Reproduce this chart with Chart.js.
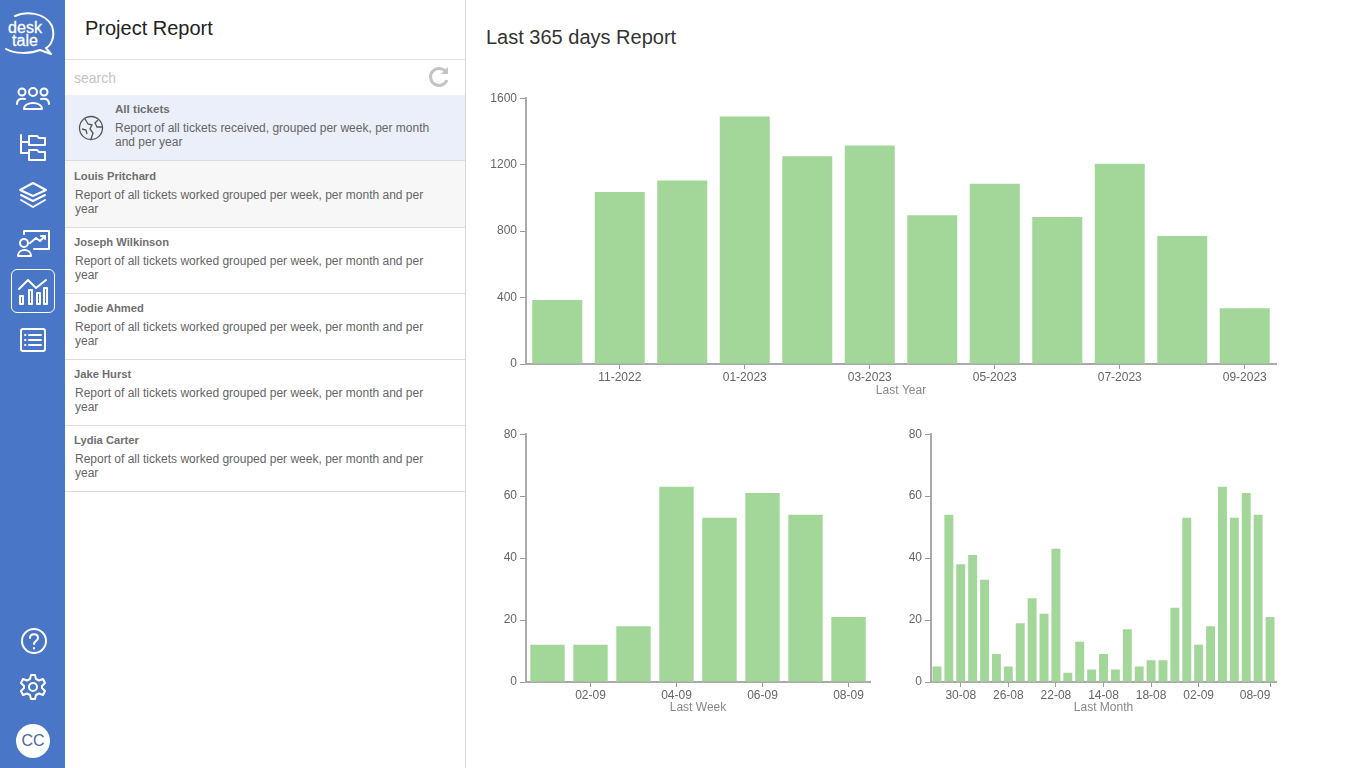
<!DOCTYPE html>
<html>
<head>
<meta charset="utf-8">
<title>Project Report</title>
<script src="https://cdn.jsdelivr.net/npm/chart.js@4/dist/chart.umd.min.js"></script>
<style>
    html, body { margin: 0; padding: 0; width: 1366px; height: 768px; overflow: hidden; background: #fff; font-family: "Liberation Sans", Arial, sans-serif; }
    #nav { position: absolute; left: 0; top: 0; width: 65px; height: 768px; background: #4a76c8; }
    #nav svg { position: absolute; fill: none; stroke: #fff; stroke-width: 2; stroke-linecap: round; stroke-linejoin: round; }
    #logo { position: absolute; left: 3px; top: 21px; width: 44px; color: #fff; font-size: 16px; line-height: 13px; text-align: center; -webkit-text-stroke: 0.3px #fff; }
    #activeBox { position: absolute; left: 11px; top: 269px; width: 44px; height: 44px; border: 1px solid #fff; border-radius: 6px; box-sizing: border-box; }
    #avatar { position: absolute; left: 16px; top: 724px; width: 34px; height: 34px; border-radius: 50%; background: #fff; color: #4a6a9c; font-size: 16px; line-height: 34px; text-align: center; }
    #panel { position: absolute; left: 65px; top: 0; width: 400px; height: 768px; border-right: 1px solid #d8d8d8; }
    #panelTitle { position: absolute; left: 20px; top: 17px; font-size: 20px; color: #222; }
    #searchRow { position: absolute; left: 0; top: 59px; width: 400px; height: 35px; border-top: 1px solid #e0e0e0; border-bottom: 1px solid #e0e0e0; }
    #searchRow span { position: absolute; left: 9px; top: 10px; font-size: 14px; color: #c4c4c4; }
    .row { position: absolute; left: 0; width: 400px; height: 66px; border-bottom: 1px solid #dcdcdc; color: #666; font-size: 12px; line-height: 14px; }
    .row b { position: absolute; left: 9px; top: 8px; color: #707070; font-size: 11.2px; }
    .row p { position: absolute; left: 10px; top: 27px; margin: 0; width: 360px; }
    #pageTitle { position: absolute; left: 486px; top: 26px; font-size: 20px; color: #333; }
    canvas { position: absolute; }
</style>
</head>
<body>
<div id="nav">
    <div id="logo">desk<br>tale</div>
    <svg style="left:0;top:0" width="60" height="60" viewBox="0 0 60 60" stroke-width="1.5"><path d="M15 16 C25 11 45 12 52 26 C56 38 50 46 46 48 L51 54 L40 50 C30 54 15 54 6 49"/></svg>
    <svg style="left:15px;top:86px" width="36" height="26" viewBox="0 0 36 26"><circle cx="7" cy="6" r="3.5"/><circle cx="18" cy="6" r="4"/><circle cx="29" cy="6" r="3.5"/><path d="M2 18 C2 13 6 12 10 13"/><path d="M34 18 C34 13 30 12 26 13"/><path d="M9 23 C9 15 27 15 27 23 Z"/></svg>
    <svg style="left:18px;top:132px" width="30" height="30" viewBox="0 0 30 30"><path d="M3 3 V21 H11"/><path d="M3 10 H11"/><path d="M11 4 H19 L21 6 H27 V13 H11 Z"/><path d="M11 18 H19 L21 20 H27 V28 H11 Z"/></svg>
    <svg style="left:18px;top:181px" width="30" height="28" viewBox="0 0 30 28"><path d="M15 2 L28 9 L15 15 L2 9 Z"/><path d="M3 14 L15 20 L27 14"/><path d="M3 19 L15 26 L27 19"/></svg>
    <svg style="left:16px;top:229px" width="34" height="30" viewBox="0 0 34 30"><path d="M8 5 V2 H33 V20 H18"/><path d="M14 14 L20 9 L24 12 L29 7"/><path d="M25 7 H29 V10"/><circle cx="8" cy="14" r="4"/><path d="M2 27 C2 19 15 19 15 27 Z"/></svg>
    <div id="activeBox"></div>
    <svg style="left:17px;top:276px" width="32" height="30" viewBox="0 0 32 30"><path d="M2 13 L11 4 L19 12 L29 4"/><rect x="3" y="20" width="3" height="8"/><rect x="12" y="14" width="3" height="14"/><rect x="20" y="17" width="3" height="11"/><rect x="27" y="12" width="3" height="16"/></svg>
    <svg style="left:19px;top:327px" width="28" height="26" viewBox="0 0 28 26"><rect x="2" y="2" width="24" height="22" rx="2"/><path d="M10 8 H22 M10 13 H22 M10 18 H22 M6 8 H6.5 M6 13 H6.5 M6 18 H6.5"/></svg>
    <svg style="left:20px;top:627px" width="28" height="28" viewBox="0 0 28 28"><circle cx="14" cy="14" r="12"/><path d="M10 11 C10 6 18 6 18 11 C18 14 14 14 14 17"/><path d="M14 21 V21.5"/></svg>
    <svg style="left:19px;top:673px" width="28" height="28" viewBox="0 0 28 28"><circle cx="14" cy="14" r="4"/><path d="M12 2 H16 L17 6 L20 7.5 L24 6 L26 10 L23 13 V15 L26 18 L24 22 L20 20.5 L17 22 L16 26 H12 L11 22 L8 20.5 L4 22 L2 18 L5 15 V13 L2 10 L4 6 L8 7.5 L11 6 Z"/></svg>
    <div id="avatar">CC</div>
</div>
<div id="panel">
    <div id="panelTitle">Project Report</div>
    <div id="searchRow">
        <span>search</span>
        <svg style="position:absolute;left:363px;top:6px" width="22" height="22" viewBox="0 0 22 22" fill="none" stroke="#c4c4c4" stroke-width="3"><path d="M18 6 A8.5 8.5 0 1 0 19 14"/><path d="M20 1 V8 H13" fill="#c4c4c4" stroke="none"/></svg>
    </div>
    <div class="row" style="top:95px;height:65px;background:#eaeff9">
        <svg style="position:absolute;left:13px;top:20px" width="26" height="26" viewBox="0 0 26 26" fill="none" stroke="#555" stroke-width="1.3"><circle cx="13" cy="13" r="11.5"/><path d="M7 4 L10 9 L14 10 L12 14 L15 18 L13 24 M20 5 L17 8 L19 12 L24 12 M4 14 L8 15 L9 19"/></svg>
        <b style="left:50px;top:7px;font-size:11.6px">All tickets</b>
        <p style="left:50px;top:26px;width:330px">Report of all tickets received, grouped per week, per month and per year</p>
    </div>
    <div class="row" style="top:161px;background:#f7f7f7"><b>Louis Pritchard</b><p>Report of all tickets worked grouped per week, per month and per year</p></div>
    <div class="row" style="top:227px"><b>Joseph Wilkinson</b><p>Report of all tickets worked grouped per week, per month and per year</p></div>
    <div class="row" style="top:293px"><b>Jodie Ahmed</b><p>Report of all tickets worked grouped per week, per month and per year</p></div>
    <div class="row" style="top:359px"><b>Jake Hurst</b><p>Report of all tickets worked grouped per week, per month and per year</p></div>
    <div class="row" style="top:425px"><b>Lydia Carter</b><p>Report of all tickets worked grouped per week, per month and per year</p></div>
</div>
<div id="pageTitle">Last 365 days Report</div>
<canvas id="yearChart" style="left:486px;top:88px" width="830" height="310"></canvas>
<canvas id="weekChart" style="left:486px;top:424px" width="424" height="291"></canvas>
<canvas id="monthChart" style="left:891px;top:424px" width="425" height="291"></canvas>
<script>
// values
const yearCategories = ['10-2022', '11-2022', '12-2022', '01-2023', '02-2023', '03-2023', '04-2023', '05-2023', '06-2023', '07-2023', '08-2023', '09-2023'];
const yearValues = [385, 1035, 1105, 1490, 1250, 1315, 895, 1085, 885, 1205, 770, 335];
const yearTicks = ['11-2022', '01-2023', '03-2023', '05-2023', '07-2023', '09-2023'];

const weekCategories = ['01-09', '02-09', '03-09', '04-09', '05-09', '06-09', '07-09', '08-09'];
const weekValues = [12, 12, 18, 63, 53, 61, 54, 21];
const weekTicks = ['02-09', '04-09', '06-09', '08-09'];

// only the labelled days can be read, the others stay blank
const monthCategories = ['', '', '30-08', '', '', '', '26-08', '', '', '', '22-08', '', '', '', '14-08', '', '', '', '18-08', '', '', '', '02-09', '', '', '', '', '', '08-09'];
const monthValues = [5, 54, 38, 41, 33, 9, 5, 19, 27, 22, 43, 3, 13, 4, 9, 4, 17, 5, 7, 7, 24, 53, 12, 18, 63, 53, 61, 54, 21];
const monthTicks = ['30-08', '26-08', '22-08', '14-08', '18-08', '02-09', '08-09'];

function drawBars(id, categories, values, ticks, title, yMax, yStep, axisHeight, barPercentage, pullLastLabel) {
    const ctx = document.getElementById(id).getContext('2d');
    return new Chart(ctx, {
        type: 'bar',
        data: {
            labels: categories,
            datasets: [{ data: values, backgroundColor: '#a2d799', barPercentage: barPercentage, categoryPercentage: 1 }]
        },
        options: {
            responsive: false,
            animation: false,
            layout: { padding: { top: 10, right: 40 } },
            plugins: { legend: { display: false }, tooltip: { enabled: false } },
            scales: {
                x: {
                    afterFit: scale => { scale.height = axisHeight; },
                    // 只留下有標籤的刻度
                    afterBuildTicks: scale => {
                        scale.ticks = scale.ticks.filter(t => ticks.includes(categories[t.value]));
                    },
                    grid: { offset: false, drawOnChartArea: false, tickLength: 5, tickColor: '#999' },
                    border: { color: '#aaa', width: 2 },
                    ticks: {
                        autoSkip: false,
                        maxRotation: 0,
                        padding: 1,
                        color: '#666',
                        font: { family: 'Liberation Sans', size: 12 },
                        // last label sits left of its tick in the reference, trailing nbsp pushes it over
                        callback: function(value, index, all) {
                            const label = categories[value];
                            return pullLastLabel && index === all.length - 1 ? label + '\u00a0'.repeat(9) : label;
                        }
                    },
                    title: { display: true, text: title, color: '#888', padding: 0, font: { family: 'Liberation Sans', size: 12 } }
                },
                y: {
                    min: 0,
                    max: yMax,
                    afterFit: scale => { scale.width = 40; },
                    grid: { drawOnChartArea: false, tickLength: 6, tickColor: '#999' },
                    border: { color: '#aaa', width: 2 },
                    ticks: { stepSize: yStep, padding: 3, color: '#666', font: { family: 'Liberation Sans', size: 12 }, callback: value => String(value) }
                }
            }
        }
    });
}

drawBars('yearChart', yearCategories, yearValues, yearTicks, 'Last Year', 1600, 400, 34, 0.8, false);
drawBars('weekChart', weekCategories, weekValues, weekTicks, 'Last Week', 80, 20, 33, 0.8, false);
drawBars('monthChart', monthCategories, monthValues, monthTicks, 'Last Month', 80, 20, 33, 0.75, true);
</script>
</body>
</html>
